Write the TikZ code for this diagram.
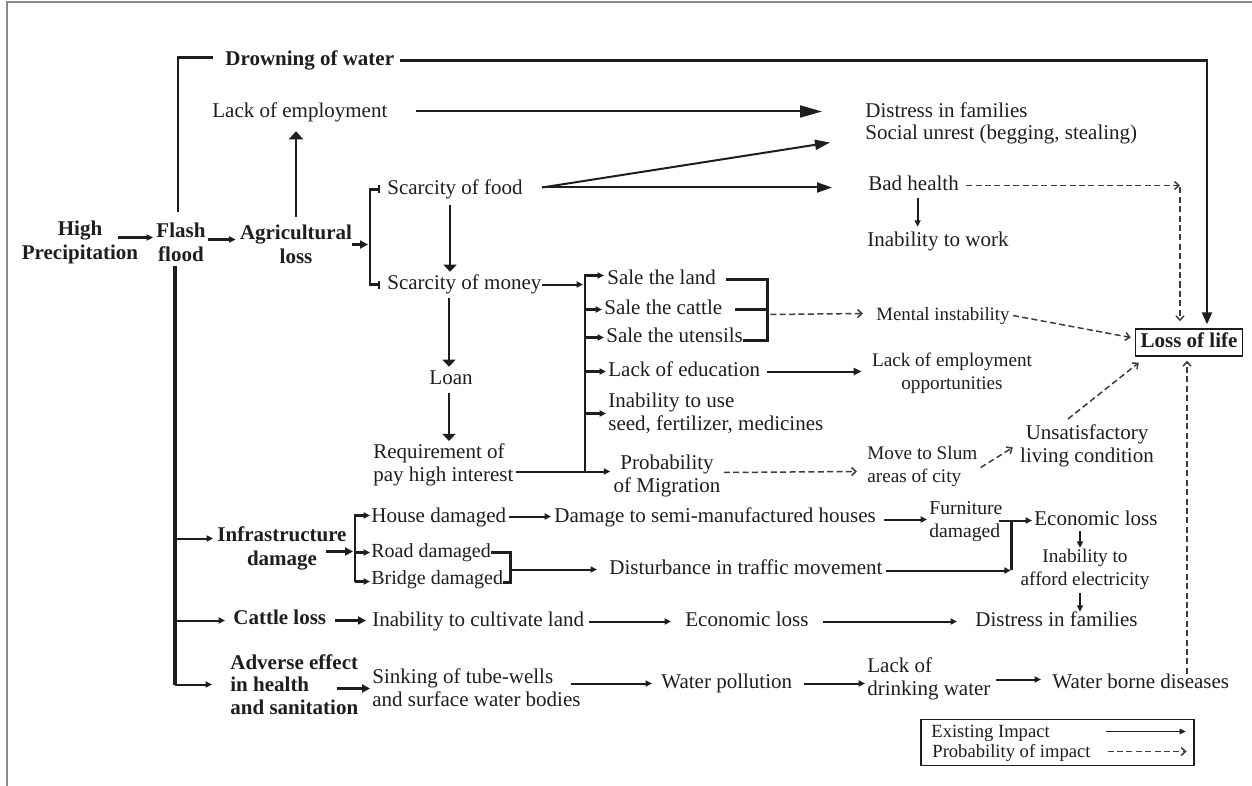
\documentclass[tikz,border=0pt]{standalone}
\usepackage{fontspec}
\setmainfont{Liberation Serif}
\usetikzlibrary{arrows.meta,calc}
\definecolor{ink}{HTML}{1E1E1E}
\definecolor{dgray}{HTML}{3C3C3C}
\definecolor{framec}{HTML}{8A8A8A}
\begin{document}
\begin{tikzpicture}[x=0.5pt,y=-0.5pt,
  N/.style={font=\fontsize{10.5}{11.5}\selectfont, text=ink, inner sep=0pt, anchor=west, text height=7.2pt, text depth=2.2pt},
  NL/.style={font=\fontsize{10.5}{11.5}\selectfont, text=ink, inner sep=0pt, anchor=west, align=left},
  NC/.style={font=\fontsize{10.5}{11.5}\selectfont, text=ink, inner sep=0pt, align=center},
  B/.style={font=\fontsize{10.5}{12}\selectfont\bfseries, text=ink, inner sep=0pt, anchor=west, text height=7.2pt, text depth=2.2pt},
  BC/.style={font=\fontsize{10.5}{12}\selectfont\bfseries, text=ink, inner sep=0pt, align=center},
  BL/.style={font=\fontsize{10.5}{11.3}\selectfont\bfseries, text=ink, inner sep=0pt, anchor=west, align=left},
  LG/.style={font=\fontsize{9.3}{10}\selectfont, text=ink, inner sep=0pt, anchor=west, text height=6.5pt, text depth=2pt},
  ln/.style={draw=ink, line width=1pt},
  tk/.style={draw=ink, line width=1.35pt},
  trunk/.style={draw=ink, line width=1.9pt},
  aS/.style={ln, -{Triangle[length=3.2pt,width=3pt]}},
  aSb/.style={tk, -{Triangle[length=3.2pt,width=3pt]}},
  aM/.style={draw=ink, line width=1.4pt, -{Triangle[length=3.5pt,width=6.5pt]}},
  aT/.style={draw=ink, line width=1.7pt, -{Triangle[length=4pt,width=4pt]}},
  aF/.style={ln, -{Triangle[length=7.5pt,width=5pt]}},
  da/.style={draw=dgray, line width=0.75pt, dash pattern=on 3pt off 1.7pt, -{Straight Barb[length=2.2pt,width=4pt]}}
]
\useasboundingbox (0,0) rectangle (1252,786);
\fill[white] (0,0) rectangle (1252,786);
\draw[framec, line width=0.6pt] (7,786) -- (7,2) -- (1252,2);

\begin{scope}[shift={(0,2.5)}]
% ---------- nodes ----------
\node[BC] (hp) at (80,240) {High\\Precipitation};
\node[BC] (ff) at (181,240) {Flash\\flood};
\node[BC] (al) at (296,242) {Agricultural\\loss};
\node[B] (dw) at (225,58) {Drowning of water};
\node[N] (le) at (212,110) {Lack of employment};
\node[N] (dif1) at (865,110) {Distress in families};
\node[N] (su) at (865,132) {Social unrest (begging, stealing)};
\node[N] (sf) at (387,187) {Scarcity of food};
\node[N] (bh) at (868,183) {Bad health};
\node[N] (iw) at (867,239) {Inability to work};
\node[N] (sm) at (387,282) {Scarcity of money};
\node[N,anchor=center] (loan) at (451,377) {Loan};
\node[NL] (req) at (373,462) {Requirement of\\pay high interest};
\node[N] (stl) at (607,277) {Sale the land};
\node[N] (stc) at (604,307) {Sale the cattle};
\node[N] (stu) at (606,335) {Sale the utensils};
\node[N] (led) at (608,369) {Lack of education};
\node[NL] (itu) at (608,411) {Inability to use\\seed, fertilizer, medicines};
\node[NC] (pom) at (667,473) {Probability\\of Migration};
\node[N, font=\fontsize{9.4}{11}\selectfont] (mi) at (876,313) {Mental instability};
\node[NC, font=\fontsize{9.6}{11.5}\selectfont] (leo) at (952,371) {Lack of employment\\opportunities};
\node[NL, font=\fontsize{9.6}{11.2}\selectfont] (mts) at (867,464) {Move to Slum\\areas of city};
\node[NC] (ulc) at (1087,443) {Unsatisfactory\\living condition};
\node[B, draw=ink, line width=0.8pt, anchor=center, inner xsep=2.5pt, inner ysep=2pt] (lol) at (1189,340) {Loss of life};
\node[BC] (infra) at (282,546) {Infrastructure\\damage};
\node[N] (hd) at (371,515) {House damaged};
\node[N, font=\fontsize{10}{11.5}\selectfont] (rd) at (371,550) {Road damaged};
\node[N, font=\fontsize{10}{11.5}\selectfont] (bd) at (371,577) {Bridge damaged};
\node[N] (dsh) at (554,515) {Damage to semi-manufactured houses};
\node[N] (dtm) at (609,567) {Disturbance in traffic movement};
\node[NL, font=\fontsize{9.8}{11.5}\selectfont] (fd) at (929,519) {Furniture\\damaged};
\node[N] (el1) at (1034,518) {Economic loss};
\node[NC, font=\fontsize{9.65}{11.5}\selectfont] (iae) at (1085,567) {Inability to\\afford electricity};
\node[B] (cl) at (233,617) {Cattle loss};
\node[N] (icl) at (372,619) {Inability to cultivate land};
\node[N] (el2) at (685,619) {Economic loss};
\node[N] (dif2) at (975,619) {Distress in families};
\node[BL] (ae) at (230,682) {Adverse effect\\in health\\and sanitation};
\node[NL] (sink) at (372,685) {Sinking of tube-wells\\and surface water bodies};
\node[N] (wp) at (661,681) {Water pollution};
\node[NL] (ldw) at (867,676) {Lack of\\drinking water};
\node[N] (wbd) at (1052,681) {Water borne diseases};

% ---------- helper coordinates ----------
\coordinate (ab) at ($(sf.west)+(-17,0)$);
\coordinate (mb) at ($(stl.west)+(-22,0)$);
\coordinate (sb) at ($(stu.east)+(24,0)$);
\coordinate (ib) at ($(hd.west)+(-16,0)$);
\coordinate (rb) at ($(bd.east)+(7,0)$);
\coordinate (fb) at ($(fd.east)+(9,0)$);

% ---------- top part ----------
\draw[aS, line width=1.1pt] ($(hp.east)+(-21,-5)$) -- ($(ff.west)+(-3,-5)$);
\draw[aS, line width=1.1pt] ($(ff.east)+(2,-3)$) -- ($(al.west)+(-4,-5)$);
\draw[aT] (al.east) -- ($(ab|-al.east)+(-2,0)$);
\draw[tk, {Bar[width=4pt,line width=0.8pt]}-{Bar[width=4pt,line width=0.8pt]}]
  ($(sf.west)+(-7,0)$) -- (ab) -- (ab|-sm.west) -- ($(sm.west)+(-7,0)$);

\draw[tk] ($(ff.north)+(-3,-11)$) |- ($(dw.west)+(-12,-3)$);
\draw[draw=ink, line width=1.1pt, -{Triangle[length=6pt,width=5pt]}] ($(dw.east)+(5,0)$) -| ($(lol.north)+(18,-4)$);

\draw[aM, -{Triangle[length=4pt,width=7pt]}] ($(al.north)+(0,-8)$) -- ($(al.north|-le.south)+(0,9)$);
\draw[ln, -{Triangle[length=11pt,width=6pt]}] ($(le.east)+(28,-1)$) -- ($(dif1.west)+(-43,-1)$);
\draw[aF] ($(sf.east)+(19,-2)$) -- ($(su.west)+(-35,8)$);
\draw[aF] ($(sf.east)+(19,-2)$) -- ($(bh.west)+(-36,2)$);

\draw[aM] ($(sf.south-|loan)+(-1,6)$) -- ($(sm.north-|loan)+(-1,-3)$);
\draw[aM] ($(sm.south-|loan)+(-2,4)$) -- ($(loan.north)+(-2,-3)$);
\draw[aM] ($(loan.south)+(-2,4)$) -- ($(loan.south|-req.north)+(-2,-2)$);

\draw[aS] (sm.east) -- ($(mb|-sm.east)+(-2,0)$);
\draw[aSb] ($(mb|-pom.west)+(0,-4)$) -- ($(mb)+(0,-4)$) -- ($(stl.west)+(-3,-4)$);
\foreach \n in {stc,stu,led,itu} \draw[aSb] (mb|-\n.west) -- ($(\n.west)+(-2,0)$);
\draw[aS] ($(req.east)+(2,7)$) -- ($(pom.west)+(-3,-4)$);

\draw[tk] ($(stl.east)+(10,0)$) -| ($(sb)+(0,3)$) -- ($(stu.east)+(0,3)$);
\draw[tk] ($(stc.east)+(12,0)$) -- (sb|-stc.east);
\draw[da] ($(sb|-stc.east)+(3,5)$) -- ($(mi.west)+(-13,-2)$);
\draw[da] ($(mi.east)+(3,0)$) -- ($(lol.west)+(-4,-5)$);

\draw[da] ($(bh.east)+(7,0)$) -- ($(lol.north|-bh.east)+(-9,0)$);
\draw[da] ($(lol.north|-bh.east)+(-9,2)$) -- ($(lol.north)+(-9,-7)$);
\draw[aS] ($(bh.south)+(4,3)$) -- ($(bh.south|-iw.north)+(4,-5)$);

\draw[ln, -{Triangle[length=4pt,width=3.5pt]}] ($(led.east)+(7,0)$) -- ($(leo.west|-led.east)+(-10,0)$);
\draw[da] ($(pom.east)+(3,-3)$) -- ($(mts.west|-pom.east)+(-10,-4)$);
\draw[da] ($(mts.east)+(3,1)$) -- ($(ulc.west)+(-7,2)$);
\draw[da] ($(ulc.north)+(-19,-5)$) -- ($(lol.south west)+(4,6)$);
\draw[da] ($(lol.south|-wbd.north)+(-2,0)$) -- ($(lol.south)+(-2,4)$);

% ---------- lower part ----------
\draw[trunk] ($(ff.south)+(-6,4)$) -- ($(ff.south|-ae.west)+(-6,0)$);
\draw[aS] ($(ff.south|-infra.west)+(-6,-10)$) -- ($(infra.west)+(-4,-10)$);
\draw[aS] ($(ff.south|-cl.west)+(-6,1)$) -- ($(cl.west)+(-8,1)$);
\draw[aS] ($(ff.south|-ae.west)+(-6,0)$) -- ($(ae.west)+(-18,0)$);

\draw[aT] ($(infra.east)+(-21,3)$) -- ($(ib|-infra.east)+(-2,3)$);
\draw[aSb] ($(ib|-bd.west)+(0,2)$) -- ($(ib)+(0,-2)$) -- ($(hd.west)+(-1,-2)$);
\draw[aSb] ($(ib|-bd.west)+(0,2)$) -- ($(bd.west)+(-1,2)$);
\draw[aSb] (ib|-rd.west) -- ($(rd.west)+(-1,0)$);

\draw[aS] ($(hd.east)+(2,-1)$) -- ($(dsh.west)+(-3,-1)$);
\draw[tk] (rd.east) -| ($(rb)+(0,3)$) -- ($(bd.east)+(0,3)$);
\draw[aS] (rb|-dtm.west) -- ($(dtm.west)+(-12,0)$);

\draw[aS] ($(dsh.east)+(8,2)$) -- ($(fd.west)+(-2,-2)$);
\draw[aS] ($(fd.east)+(-4,-1)$) -- ($(el1.west)+(-2,0)$);
\draw[tk] ($(fb|-el1.west)+(0,0)$) -- (fb|-dtm.east);
\draw[aS] ($(dtm.east)+(3,1)$) -- ($(fb|-dtm.east)+(-1,1)$);

\draw[aS] ($(el1.south-|iae.north)+(-5,1)$) -- ($(iae.north)+(-5,-1)$);
\draw[aS] ($(iae.south)+(-5,3)$) -- ($(iae.south|-dif2.north)+(-5,0)$);

\draw[aT] ($(cl.east)+(8,1)$) -- ($(icl.west)+(-6,-1)$);
\draw[aS] ($(icl.east)+(4,0)$) -- ($(el2.west)+(-14,0)$);
\draw[aS] ($(el2.east)+(14,0)$) -- ($(dif2.west)+(-18,0)$);

\draw[aT] ($(ae.east)+(-22,4)$) -- ($(sink.west)+(-2,1)$);
\draw[aS] ($(sink.east)+(-10,-4)$) -- ($(wp.west)+(-9,0)$);
\draw[aS] ($(wp.east)+(11,0)$) -- ($(ldw.west|-wp.east)+(-2,0)$);
\draw[aS] ($(ldw.east)+(5,1)$) -- ($(wbd.west)+(-11,-4)$);

% ---------- legend ----------
\node[draw=ink, line width=0.6pt, minimum width=136.5pt, minimum height=23pt, inner sep=0pt] (leg) at (1057.5,740) {};
\node[LG] (lg1) at (931,730) {Existing Impact};
\node[LG] (lg2) at (932,750) {Probability of impact};
\coordinate (l1b) at ($(leg.east|-lg1.east)+(-9,-1)$);
\coordinate (l1a) at ($(l1b)+(-80,0)$);
\coordinate (l2b) at ($(leg.east|-lg2.east)+(-8,-1)$);
\coordinate (l2a) at ($(l2b)+(-79,0)$);
\draw[draw=ink, line width=0.6pt, -{Triangle[length=3pt,width=2.8pt]}] (l1a) -- (l1b);
\draw[da] (l2a) -- (l2b);
\end{scope}
\end{tikzpicture}
\end{document}
